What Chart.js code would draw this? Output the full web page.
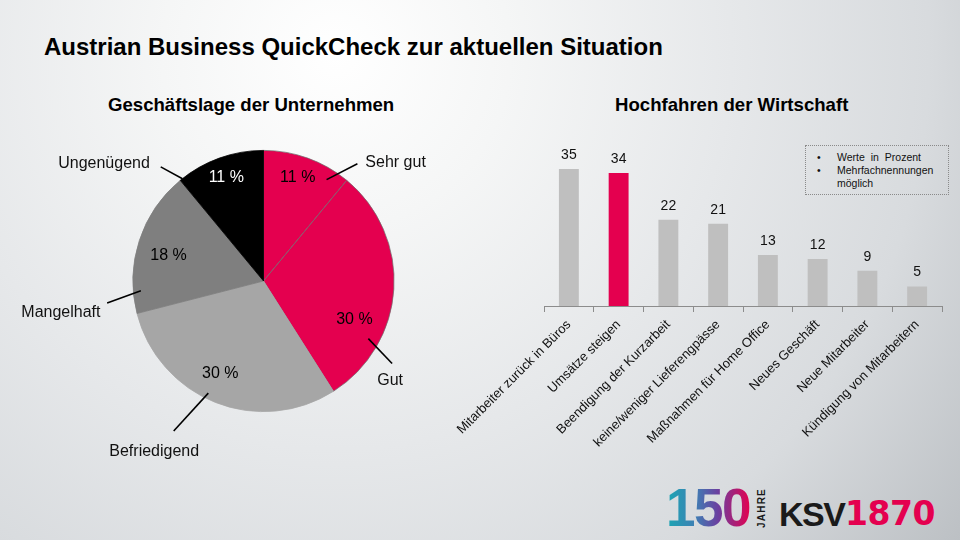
<!DOCTYPE html>
<html>
<head>
<meta charset="utf-8">
<script src="https://cdn.jsdelivr.net/npm/chart.js@4/dist/chart.umd.min.js"></script>
<style>
  html, body { margin:0; padding:0; }
  body {
    width:960px; height:540px; overflow:hidden; position:relative;
    font-family:"Liberation Sans", Arial, sans-serif; color:#000;
    background: radial-gradient(circle at 35% 10%, #ffffff 0%, #f5f6f6 22%, #e6e8ea 50%, #d8dbde 75%, #bcc0c4 100%);
  }
  .abs { position:absolute; white-space:nowrap; }
  #title { left:44px; top:35px; font-size:24px; line-height:24px; font-weight:bold; }
  .sub { font-size:18.6px; line-height:20px; font-weight:bold; top:95px; }
  #sub1 { left:108px; }
  #sub2 { left:615px; }
  #note { left:805px; top:145px; width:142px; height:48px; border:1px dotted #8a8a8a; font-size:10.5px; line-height:13px; color:#111; }
  #note div { position:absolute; left:31px; }
  #note span { position:absolute; left:-20px; }
  #logo150 { left:666px; top:478px; font-size:53px; line-height:60px; font-weight:bold; letter-spacing:-1.5px;
    background: linear-gradient(90deg, #1aa7b3 0%, #3f7fb4 35%, #6b3fa0 62%, #e4004f 100%);
    -webkit-background-clip:text; background-clip:text; color:transparent; }
  #jahre { left:742px; top:503px; font-size:10px; font-weight:bold; letter-spacing:1.2px; transform:rotate(-90deg); transform-origin:center; color:#1a1a1a; width:40px; text-align:center; line-height:10px;}
  #ksv { left:779px; top:494px; font-size:34px; line-height:40px; font-weight:bold; color:#1a1a1a; letter-spacing:-1.5px; }
  #y1870 { left:845px; top:494px; font-size:33px; line-height:40px; font-weight:bold; color:#e4004f; font-family:"DejaVu Sans", sans-serif; letter-spacing:-0.5px; }
  canvas { position:absolute; }
</style>
</head>
<body>
<div id="title" class="abs">Austrian Business QuickCheck zur aktuellen Situation</div>
<div id="sub1" class="abs sub">Geschäftslage der Unternehmen</div>
<div id="sub2" class="abs sub">Hochfahren der Wirtschaft</div>
<div id="note" class="abs">
  <div style="top:5px; word-spacing:3px;"><span>•</span>Werte in Prozent</div>
  <div style="top:18px"><span>•</span>Mehrfachnennungen</div>
  <div style="top:31px">möglich</div>
</div>
<div id="logo150" class="abs">150</div>
<div id="jahre" class="abs">JAHRE</div>
<div id="ksv" class="abs">KSV</div>
<div id="y1870" class="abs">1870</div>

<canvas id="pie" width="440" height="340" style="left:0px; top:130px;"></canvas>
<canvas id="bar" width="540" height="340" style="left:420px; top:120px;"></canvas>

<script>
// ---------- DATA ----------
const pieCategories = ["Sehr gut", "Gut", "Befriedigend", "Mangelhaft", "Ungenügend"];
const pieValues = [11, 30, 30, 18, 11];

const barCategories = [
  "Mitarbeiter zurück in Büros",
  "Umsätze steigen",
  "Beendigung der Kurzarbeit",
  "keine/weniger Lieferengpässe",
  "Maßnahmen für Home Office",
  "Neues Geschäft",
  "Neue Mitarbeiter",
  "Kündigung von Mitarbeitern"
];
const barValues = [35, 34, 22, 21, 13, 12, 9, 5];

// ---------- STYLE ----------
const RED = "#e4004f";
const pieColors = [RED, RED, "#a6a6a6", "#7f7f7f", "#000000"];
const pieBorderColors = ["rgba(110,110,110,0.9)", "rgba(110,110,110,0.9)", "#a6a6a6", "#7f7f7f", "#000000"];
const pieInnerTextColors = ["#000", "#000", "#000", "#000", "#fff"];
// label placement: [angle deg clockwise from top, fraction of radius]
const pieInnerPos = [[18.35,0.833],[113.1,0.757],[205.1,0.781],[285.2,0.753],[340.2,0.841]];
// callouts: [startAngle, startFrac, endAngle, endFrac, textAngle, textFrac]
const pieCallouts = [
  [31.9,0.914, 38.7,1.15, 48.2,1.357],
  [118.8,0.916, 122.7,1.17, 128.1,1.232],
  [206.2,0.957, 210.9,1.339, 212.6,1.553],
  [265.4,0.942, 262.0,1.209, 261.1,1.570],
  [321.6,0.999, 318.0,1.176, 306.3,1.515]
];
const barColors = barValues.map((v, i) => i === 1 ? RED : "#bfbfbf");
const FONT = '"Liberation Sans", Arial, sans-serif';

function polar(cx, cy, r, deg, frac) {
  const a = deg * Math.PI / 180;
  return [cx + frac * r * Math.sin(a), cy - frac * r * Math.cos(a)];
}

const pieLabelPlugin = {
  id: 'pieLabels',
  afterDatasetsDraw(chart) {
    const ctx = chart.ctx;
    const meta = chart.getDatasetMeta(0);
    const arc0 = meta.data[0];
    const cx = arc0.x, cy = arc0.y, r = arc0.outerRadius;
    ctx.save();
    ctx.font = '16px ' + FONT;
    ctx.textAlign = 'center';
    ctx.textBaseline = 'middle';
    meta.data.forEach((arc, i) => {
      const v = chart.data.datasets[0].data[i];
      const [lx, ly] = polar(cx, cy, r, pieInnerPos[i][0], pieInnerPos[i][1]);
      ctx.fillStyle = pieInnerTextColors[i];
      ctx.fillText(v + ' %', lx, ly);
      const c = pieCallouts[i];
      const p1 = polar(cx, cy, r, c[0], c[1]);
      const p2 = polar(cx, cy, r, c[2], c[3]);
      const pt = polar(cx, cy, r, c[4], c[5]);
      ctx.strokeStyle = '#000';
      ctx.lineWidth = 1.6;
      ctx.beginPath(); ctx.moveTo(p1[0], p1[1]); ctx.lineTo(p2[0], p2[1]); ctx.stroke();
      ctx.fillStyle = '#111';
      ctx.fillText(chart.data.labels[i], pt[0], pt[1]);
    });
    ctx.restore();
  }
};

new Chart(document.getElementById('pie'), {
  type: 'pie',
  data: {
    labels: pieCategories,
    datasets: [{ data: pieValues, backgroundColor: pieColors, borderColor: pieBorderColors, borderWidth: 0.8 }]
  },
  options: {
    responsive: false, animation: false,
    layout: { padding: { left: 132.5, right: 45.5, top: 19.5, bottom: 57.5 } },
    plugins: { legend: { display: false }, tooltip: { enabled: false } }
  },
  plugins: [pieLabelPlugin]
});

const barValuePlugin = {
  id: 'barValues',
  afterDatasetsDraw(chart) {
    const ctx = chart.ctx;
    const meta = chart.getDatasetMeta(0);
    ctx.save();
    ctx.font = '14px ' + FONT;
    ctx.fillStyle = '#111';
    ctx.textAlign = 'center';
    ctx.textBaseline = 'middle';
    meta.data.forEach((bar, i) => {
      ctx.fillText(String(chart.data.datasets[0].data[i]), bar.x, bar.y - 14);
    });
    ctx.restore();
  }
};

new Chart(document.getElementById('bar'), {
  type: 'bar',
  data: {
    labels: barCategories,
    datasets: [{ data: barValues, backgroundColor: barColors, barPercentage: 0.4, categoryPercentage: 1 }]
  },
  options: {
    responsive: false, animation: false,
    layout: { padding: { left: 124, right: 18, top: 29.4, bottom: 0 } },
    plugins: { legend: { display: false }, tooltip: { enabled: false } },
    scales: {
      x: {
        grid: { display: true, drawOnChartArea: false, drawTicks: true, tickLength: 6, color: '#8c8c8c', offset: true },
        border: { display: true, color: '#8c8c8c', width: 1 },
        ticks: { minRotation: 45, maxRotation: 45, autoSkip: false, color: '#111', padding: 5,
                 font: { size: 13, family: FONT } },
        afterFit(s) { s.paddingLeft = 0; s.paddingRight = 0; s.height = 154; }
      },
      y: { display: false, min: 0, max: 40 }
    }
  },
  plugins: [barValuePlugin]
});
</script>
</body>
</html>
